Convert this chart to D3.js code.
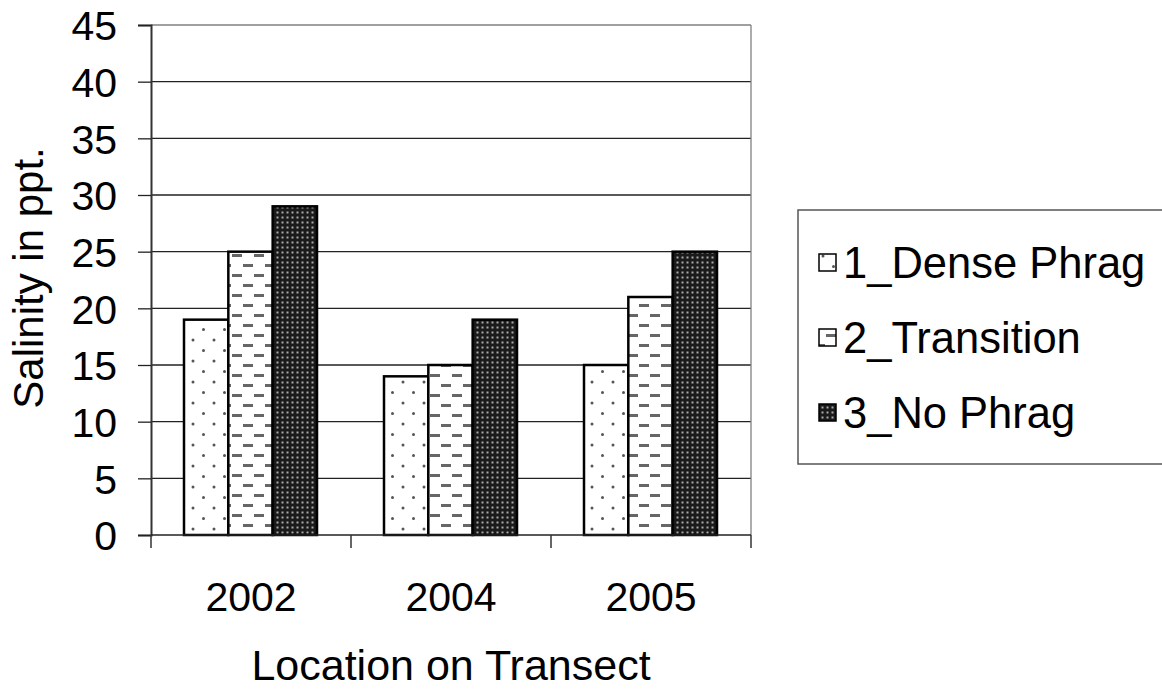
<!DOCTYPE html>
<html>
<head>
<meta charset="utf-8">
<script src="https://cdn.jsdelivr.net/npm/d3@7"></script>
<style>
  body { margin: 0; background: #fff; }
  text { font-family: "Liberation Sans", Arial, sans-serif; fill: #000; }
</style>
</head>
<body>
<svg id="chart" width="1162" height="690"></svg>
<script>
// data
const years = ["2002", "2004", "2005"];
const seriesNames = ["1_Dense Phrag", "2_Transition", "3_No Phrag"];
const denseValues = [19, 14, 15];
const transitionValues = [25, 15, 21];
const noPhragValues = [29, 19, 25];
const yTicks = [0, 5, 10, 15, 20, 25, 30, 35, 40, 45];

const seriesValues = [denseValues, transitionValues, noPhragValues];
const patternIds = ["pDots", "pDash", "pDense"];

const svg = d3.select("#chart");
const plotL = 151, plotR = 751, plotT = 25, plotB = 535;

const x = d3.scaleBand().domain(years).range([plotL, plotR]).paddingInner(0).paddingOuter(0);
const x1 = d3.scaleBand().domain(seriesNames).range([33, 166]);
const y = d3.scaleLinear().domain([0, 45]).range([plotB, plotT]);

// fill patterns
const defs = svg.append("defs");
let p = defs.append("pattern").attr("id", "pDots").attr("patternUnits", "userSpaceOnUse")
  .attr("width", 21).attr("height", 21);
p.append("rect").attr("width", 21).attr("height", 21).attr("fill", "#fff");
p.append("circle").attr("cx", 4).attr("cy", 4).attr("r", 1.5).attr("fill", "#555");
p.append("circle").attr("cx", 14.5).attr("cy", 14.5).attr("r", 1.5).attr("fill", "#555");

p = defs.append("pattern").attr("id", "pDash").attr("patternUnits", "userSpaceOnUse")
  .attr("width", 22).attr("height", 20);
p.append("rect").attr("width", 22).attr("height", 20).attr("fill", "#fff");
p.append("rect").attr("x", 1).attr("y", 4).attr("width", 10).attr("height", 3).attr("fill", "#666");
p.append("rect").attr("x", 12).attr("y", 14).attr("width", 10).attr("height", 3).attr("fill", "#666");

p = defs.append("pattern").attr("id", "pDense").attr("patternUnits", "userSpaceOnUse")
  .attr("width", 5).attr("height", 5);
p.append("rect").attr("width", 5).attr("height", 5).attr("fill", "#1a1a1a");
p.append("rect").attr("x", 1.5).attr("y", 1.5).attr("width", 2).attr("height", 2).attr("fill", "#aaa");

// gridlines
svg.append("g").selectAll("line").data(yTicks.filter(d => d > 0)).join("line")
  .attr("x1", plotL).attr("x2", plotR)
  .attr("y1", d => y(d)).attr("y2", d => y(d))
  .attr("stroke", d => d === 45 ? "#808080" : "#222").attr("stroke-width", 1.3);
svg.append("line").attr("x1", plotR).attr("x2", plotR).attr("y1", plotT).attr("y2", plotB)
  .attr("stroke", "#808080").attr("stroke-width", 1.3);

// bars
years.forEach((yr, i) => {
  seriesNames.forEach((s, j) => {
    const v = seriesValues[j][i];
    svg.append("rect")
      .attr("x", x(yr) + x1(s))
      .attr("y", y(v))
      .attr("width", x1.bandwidth())
      .attr("height", y(0) - y(v))
      .attr("fill", "url(#" + patternIds[j] + ")")
      .attr("stroke", "#000").attr("stroke-width", 2.5);
  });
});

// axes
const yAxis = svg.append("g").attr("transform", "translate(" + plotL + ",0)")
  .call(d3.axisLeft(y).tickValues(yTicks).tickSize(13).tickPadding(21));
yAxis.selectAll("text").style("font-size", "41px").attr("dy", "0.36em");
yAxis.select(".domain").attr("stroke", "#333").attr("stroke-width", 2);
yAxis.selectAll(".tick line").attr("stroke", "#222").attr("stroke-width", 1.3);

svg.append("line").attr("x1", plotL).attr("x2", plotR).attr("y1", plotB).attr("y2", plotB)
  .attr("stroke", "#222").attr("stroke-width", 1.5);
svg.append("g").selectAll("line").data(x.domain().concat(["end"])).join("line")
  .attr("x1", d => d === "end" ? plotR : x(d)).attr("x2", d => d === "end" ? plotR : x(d))
  .attr("y1", plotB).attr("y2", plotB + 13)
  .attr("stroke", "#333").attr("stroke-width", 1.5);
svg.append("g").selectAll("text").data(years).join("text")
  .attr("x", d => x(d) + x.bandwidth() / 2).attr("y", 611)
  .attr("text-anchor", "middle").style("font-size", "41px").text(d => d);

// axis titles
svg.append("text").attr("x", 451).attr("y", 680).attr("text-anchor", "middle")
  .style("font-size", "43px").text("Location on Transect");
svg.append("text").attr("transform", "translate(43,278) rotate(-90)").attr("text-anchor", "middle")
  .style("font-size", "42px").text("Salinity in ppt.");

// legend
const lg = svg.append("g");
lg.append("rect").attr("x", 798).attr("y", 210).attr("width", 380).attr("height", 254)
  .attr("fill", "#fff").attr("stroke", "#555").attr("stroke-width", 1.5);
seriesNames.forEach((s, j) => {
  const base = 278 + j * 75;
  lg.append("rect").attr("x", 819).attr("y", base - 24).attr("width", 17).attr("height", 17)
    .attr("fill", "url(#" + patternIds[j] + ")").attr("stroke", "#000").attr("stroke-width", 1.5);
  lg.append("text").attr("x", 843).attr("y", base)
    .style("font-size", "43.5px").text(s);
});
</script>
</body>
</html>
